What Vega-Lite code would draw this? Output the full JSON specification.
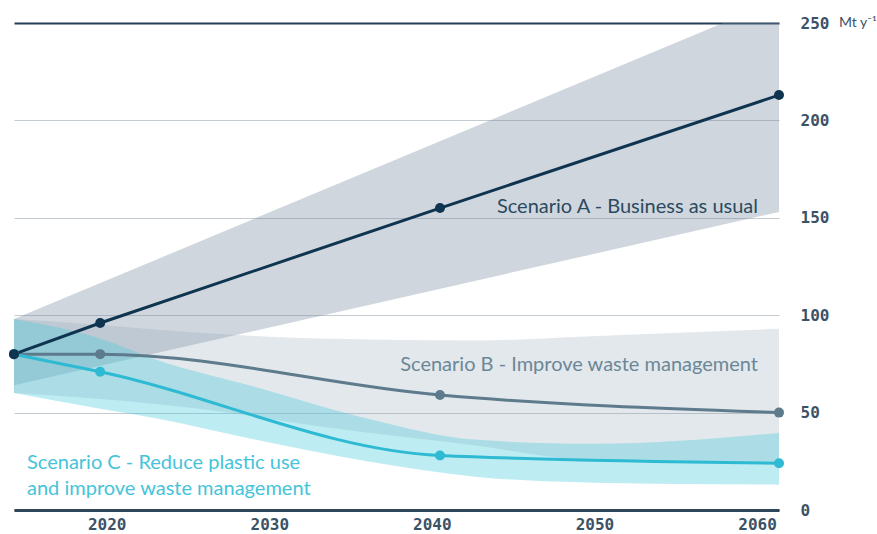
{
  "$schema": "https://vega.github.io/schema/vega-lite/v6.json",
  "width": 765,
  "height": 487,
  "autosize": {"type": "none"},
  "padding": {"left": 14, "top": 23, "right": 98, "bottom": 24},
  "background": "white",
  "config": {"view": {"stroke": null}, "font": "Lato"},
  "datasets": {
    "lines": [
      {"s": "A", "year": 2014.3, "v": 80}, {"s": "A", "year": 2019.6, "v": 96}, {"s": "A", "year": 2040.5, "v": 155}, {"s": "A", "year": 2061.35, "v": 213},
      {"s": "B", "year": 2014.3, "v": 80}, {"s": "B", "year": 2019.6, "v": 80}, {"s": "B", "year": 2040.5, "v": 59}, {"s": "B", "year": 2061.35, "v": 50},
      {"s": "C", "year": 2014.3, "v": 80}, {"s": "C", "year": 2019.6, "v": 71}, {"s": "C", "year": 2040.5, "v": 28}, {"s": "C", "year": 2061.35, "v": 24}
    ],
    "bands": [
      {"s": "A", "year": 2014.3, "lo": 64, "hi": 98}, {"s": "A", "year": 2061.35, "lo": 153, "hi": 262},
      {"s": "B", "year": 2014.3, "lo": 60, "hi": 98}, {"s": "B", "year": 2019.6, "lo": 57, "hi": 95}, {"s": "B", "year": 2025.7, "lo": 52, "hi": 91}, {"s": "B", "year": 2033, "lo": 43, "hi": 88}, {"s": "B", "year": 2042.8, "lo": 33, "hi": 87}, {"s": "B", "year": 2049.1, "lo": 26, "hi": 89}, {"s": "B", "year": 2061.35, "lo": 24, "hi": 93},
      {"s": "C", "year": 2014.3, "lo": 60, "hi": 98}, {"s": "C", "year": 2019.6, "lo": 52, "hi": 88}, {"s": "C", "year": 2023.1, "lo": 47, "hi": 77}, {"s": "C", "year": 2029.2, "lo": 36, "hi": 63}, {"s": "C", "year": 2036, "lo": 25, "hi": 47}, {"s": "C", "year": 2042.8, "lo": 17, "hi": 36}, {"s": "C", "year": 2050, "lo": 14, "hi": 34}, {"s": "C", "year": 2061.35, "lo": 13, "hi": 39.5}
    ],
    "labels": [
      {"s": "A", "t": "Scenario A - Business as usual", "year": 2060.06, "v": 155.4},
      {"s": "B", "t": "Scenario B - Improve waste management", "year": 2060.06, "v": 74.4},
      {"s": "C", "t": "Scenario C - Reduce plastic use", "year": 2015.1, "v": 24.1},
      {"s": "C", "t": "and improve waste management", "year": 2015.1, "v": 10.8}
    ],
    "unit": [{"t": "Mt y⁻¹", "year": 2061.35, "v": 250}]
  },
  "layer": [
    {
      "data": {"name": "bands"},
      "transform": [{"filter": "datum.s == 'A'"}],
      "mark": {"type": "area", "color": "#768aa1", "opacity": 0.35, "clip": true},
      "encoding": {
        "x": {"field": "year", "type": "quantitative", "scale": {"domain": [2014.3, 2061.35], "nice": false, "zero": false},
          "axis": {"orient": "bottom", "values": [2020, 2030, 2040, 2050, 2060], "format": "d", "title": null, "grid": false, "ticks": false,
            "domain": true, "domainColor": "#2d4659", "domainWidth": 3,
            "labelFont": "DejaVu Sans Mono", "labelFontWeight": "bold", "labelFontSize": 16, "labelColor": "#3b5266", "labelPadding": 6}},
        "y": {"field": "lo", "type": "quantitative", "scale": {"domain": [0, 250], "nice": false},
          "axis": {"orient": "right", "values": [0, 50, 100, 150, 200, 250], "title": null, "domain": false, "ticks": false, "grid": true,
            "gridColor": {"condition": {"test": "datum.value == 250 || datum.value == 0", "value": "#243f55"}, "value": "#c3cad0"},
            "gridWidth": {"condition": {"test": "datum.value == 250", "value": 2}, "value": 1.2},
            "labelFont": "DejaVu Sans Mono", "labelFontWeight": "bold", "labelFontSize": 16, "labelColor": "#3b5266",
            "labelPadding": 21, "labelAlign": "left", "labelBaseline": "middle"}},
        "y2": {"field": "hi"}
      }
    },
    {
      "data": {"name": "bands"},
      "transform": [{"filter": "datum.s == 'B'"}],
      "mark": {"type": "area", "color": "#8fa3b3", "opacity": 0.25, "interpolate": "monotone"},
      "encoding": {
        "x": {"field": "year", "type": "quantitative"},
        "y": {"field": "lo", "type": "quantitative"},
        "y2": {"field": "hi"}
      }
    },
    {
      "data": {"name": "bands"},
      "transform": [{"filter": "datum.s == 'C'"}],
      "mark": {"type": "area", "color": "#45c9dd", "opacity": 0.35, "interpolate": "monotone"},
      "encoding": {
        "x": {"field": "year", "type": "quantitative"},
        "y": {"field": "lo", "type": "quantitative"},
        "y2": {"field": "hi"}
      }
    },
    {
      "data": {"name": "lines"},
      "transform": [{"filter": "datum.s != 'A'"}],
      "mark": {"type": "line", "strokeWidth": 3, "interpolate": "monotone"},
      "encoding": {
        "x": {"field": "year", "type": "quantitative"},
        "y": {"field": "v", "type": "quantitative"},
        "detail": {"field": "s"},
        "color": {"field": "s", "type": "nominal", "scale": {"domain": ["A", "B", "C"], "range": ["#0f3450", "#5d7b8c", "#2dbad2"]}, "legend": null},
        "order": {"field": "year"}
      }
    },
    {
      "data": {"name": "lines"},
      "transform": [{"filter": "datum.s == 'A'"}],
      "mark": {"type": "line", "strokeWidth": 3},
      "encoding": {
        "x": {"field": "year", "type": "quantitative"},
        "y": {"field": "v", "type": "quantitative"},
        "color": {"field": "s", "type": "nominal", "legend": null}
      }
    },
    {
      "data": {"name": "lines"},
      "mark": {"type": "circle", "size": 100, "opacity": 1},
      "encoding": {
        "x": {"field": "year", "type": "quantitative"},
        "y": {"field": "v", "type": "quantitative"},
        "color": {"field": "s", "type": "nominal", "legend": null},
        "order": {"field": "s", "sort": "descending"}
      }
    },
    {
      "data": {"name": "labels"},
      "transform": [{"filter": "datum.s == 'A'"}],
      "mark": {"type": "text", "align": "right", "baseline": "middle", "fontSize": 20, "color": "#2c4a5f", "font": "Lato"},
      "encoding": {
        "x": {"field": "year", "type": "quantitative"},
        "y": {"field": "v", "type": "quantitative"},
        "text": {"field": "t"}
      }
    },
    {
      "data": {"name": "labels"},
      "transform": [{"filter": "datum.s == 'B'"}],
      "mark": {"type": "text", "align": "right", "baseline": "middle", "fontSize": 20, "color": "#6b8797", "font": "Lato"},
      "encoding": {
        "x": {"field": "year", "type": "quantitative"},
        "y": {"field": "v", "type": "quantitative"},
        "text": {"field": "t"}
      }
    },
    {
      "data": {"name": "labels"},
      "transform": [{"filter": "datum.s == 'C'"}],
      "mark": {"type": "text", "align": "left", "baseline": "middle", "fontSize": 20, "color": "#45c4d9", "font": "Lato"},
      "encoding": {
        "x": {"field": "year", "type": "quantitative"},
        "y": {"field": "v", "type": "quantitative"},
        "text": {"field": "t"}
      }
    },
    {
      "data": {"name": "unit"},
      "mark": {"type": "text", "align": "left", "baseline": "middle", "dx": 60, "fontSize": 14, "color": "#3b5266", "font": "Lato"},
      "encoding": {
        "x": {"field": "year", "type": "quantitative"},
        "y": {"field": "v", "type": "quantitative"},
        "text": {"field": "t"}
      }
    }
  ]
}
